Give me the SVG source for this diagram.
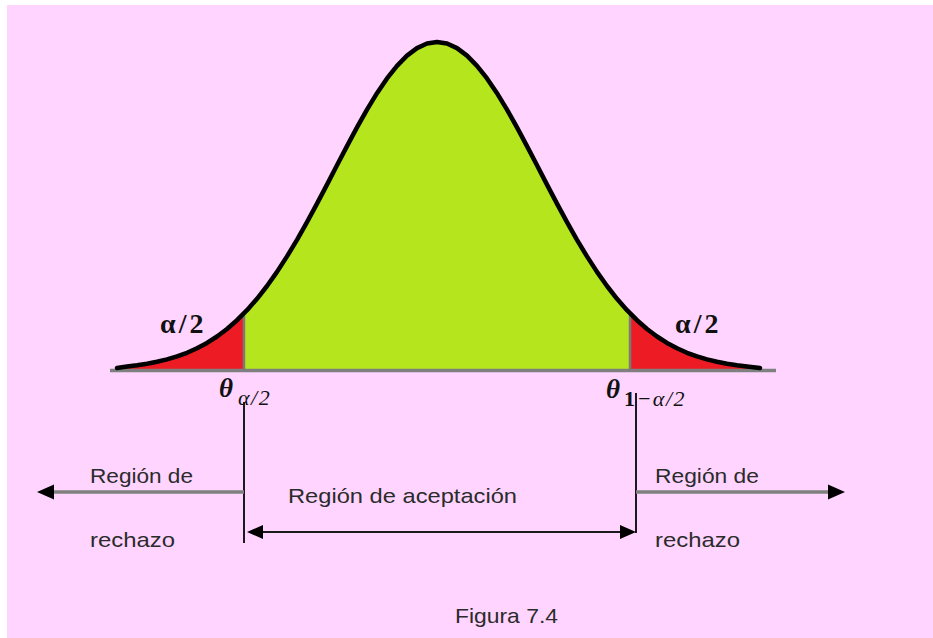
<svg xmlns="http://www.w3.org/2000/svg" width="933" height="638" viewBox="0 0 933 638">
<defs>
<style>
.lbl{font-family:"Liberation Sans",Arial,sans-serif;font-size:21px;fill:#2b2b2b}
.alpha{font-family:"Liberation Serif","Times New Roman",serif;font-weight:bold;font-size:28px;fill:#111;letter-spacing:3px}
.theta{font-family:"Liberation Serif","Times New Roman",serif;font-weight:bold;font-style:italic;font-size:27px;fill:#111}
.sub{font-family:"Liberation Serif","Times New Roman",serif;font-style:italic;font-size:22px;fill:#111;letter-spacing:1.5px}
.curve{fill:none;stroke:#000;stroke-width:4.5;stroke-linejoin:round;stroke-linecap:round}
.cut{stroke:#7a7a7a;stroke-width:2.5}
.grayline{stroke:#7f7f7f;stroke-width:3.5}
.blackline{stroke:#1a1a1a;stroke-width:2}
.head{fill:#000}
</style>
</defs>
<rect x="0" y="0" width="933" height="638" fill="#ffffff"/>
<rect x="7" y="5" width="926" height="633" fill="#FFD5FF"/>

<g id="distribution">
<path id="tail-left" fill="#ED1C24" d="M117,370 L117,367.4 L127,366.5 L137,365.3 L147,363.8 L157,361.8 L167,359.4 L177,356.4 L187,352.8 L197,348.3 L207,342.9 L217,336.5 L227,329.0 L237,320.2 L244,313.3 L244,370 Z"/>
<path id="acceptance" fill="#B5E61D" d="M244,370 L244,313.3 L247,310.2 L257,298.8 L267,286.0 L277,271.9 L287,256.4 L297,239.8 L307,222.1 L317,203.6 L327,184.6 L337,165.3 L347,146.1 L357,127.4 L367,109.6 L377,93.2 L387,78.4 L397,65.8 L407,55.6 L417,48.1 L427,43.5 L437,42 L447,43.5 L457,48.1 L467,55.6 L477,65.8 L487,78.4 L497,93.2 L507,109.6 L517,127.4 L527,146.1 L537,165.3 L547,184.6 L557,203.6 L567,222.1 L577,239.8 L587,256.4 L597,271.9 L607,286.0 L617,298.8 L627,310.2 L630,313.3 L630,370 Z"/>
<path id="tail-right" fill="#ED1C24" d="M630,370 L630,313.3 L637,320.2 L647,329.0 L657,336.5 L667,342.9 L677,348.3 L687,352.8 L697,356.4 L707,359.4 L717,361.8 L727,363.8 L737,365.3 L747,366.5 L757,367.4 L760,370 Z"/>
<line class="grayline" x1="110" y1="370.5" x2="776" y2="370.5"/>
<line class="cut" x1="244" y1="313" x2="244" y2="370"/>
<line class="cut" x1="630" y1="313" x2="630" y2="370"/>
<polyline class="curve" points="117,368 127,366.5 137,365.3 147,363.8 157,361.8 167,359.4 177,356.4 187,352.8 197,348.3 207,342.9 217,336.5 227,329.0 237,320.2 247,310.2 257,298.8 267,286.0 277,271.9 287,256.4 297,239.8 307,222.1 317,203.6 327,184.6 337,165.3 347,146.1 357,127.4 367,109.6 377,93.2 387,78.4 397,65.8 407,55.6 417,48.1 427,43.5 437,42 447,43.5 457,48.1 467,55.6 477,65.8 487,78.4 497,93.2 507,109.6 517,127.4 527,146.1 537,165.3 547,184.6 557,203.6 567,222.1 577,239.8 587,256.4 597,271.9 607,286.0 617,298.8 627,310.2 637,320.2 647,329.0 657,336.5 667,342.9 677,348.3 687,352.8 697,356.4 707,359.4 717,361.8 727,363.8 737,365.3 747,366.5 760,368"/>
</g>

<g id="label-alpha-left"><text class="alpha" x="160" y="333">α/2</text></g>
<g id="label-alpha-right"><text class="alpha" x="675" y="333">α/2</text></g>
<g id="label-theta-left"><text class="theta" x="219" y="397">θ</text><text class="sub" x="238" y="405">α/2</text></g>
<g id="label-theta-right"><text class="theta" x="606" y="398">θ</text><text class="sub" x="624" y="406"><tspan font-weight="bold" font-style="normal">1</tspan>−α/2</text></g>

<g id="connectors">
<line class="blackline" x1="244" y1="402" x2="244" y2="543"/>
<line class="blackline" x1="636" y1="393" x2="636" y2="533"/>
<line class="blackline" x1="255" y1="532" x2="628" y2="532"/>
<line class="grayline" x1="244" y1="492" x2="52" y2="492"/>
<line class="grayline" x1="636" y1="492" x2="830" y2="492"/>
<path class="head" d="M37,492 L54,484.5 L54,499.5 Z"/>
<path class="head" d="M845,492 L828,484.5 L828,499.5 Z"/>
<path class="head" d="M247,532 L263,525 L263,539 Z"/>
<path class="head" d="M636,532 L620,525 L620,539 Z"/>
</g>

<g id="text-left"><text class="lbl" x="90" y="483" textLength="103" lengthAdjust="spacingAndGlyphs">Región de</text><text class="lbl" x="90" y="547" textLength="85" lengthAdjust="spacingAndGlyphs">rechazo</text></g>
<g id="text-center"><text class="lbl" x="288" y="503" textLength="229" lengthAdjust="spacingAndGlyphs">Región de aceptación</text></g>
<g id="text-right"><text class="lbl" x="655" y="483" textLength="104" lengthAdjust="spacingAndGlyphs">Región de</text><text class="lbl" x="655" y="547" textLength="85" lengthAdjust="spacingAndGlyphs">rechazo</text></g>
<g id="caption"><text class="lbl" x="455" y="623" textLength="103" lengthAdjust="spacingAndGlyphs">Figura 7.4</text></g>
</svg>
